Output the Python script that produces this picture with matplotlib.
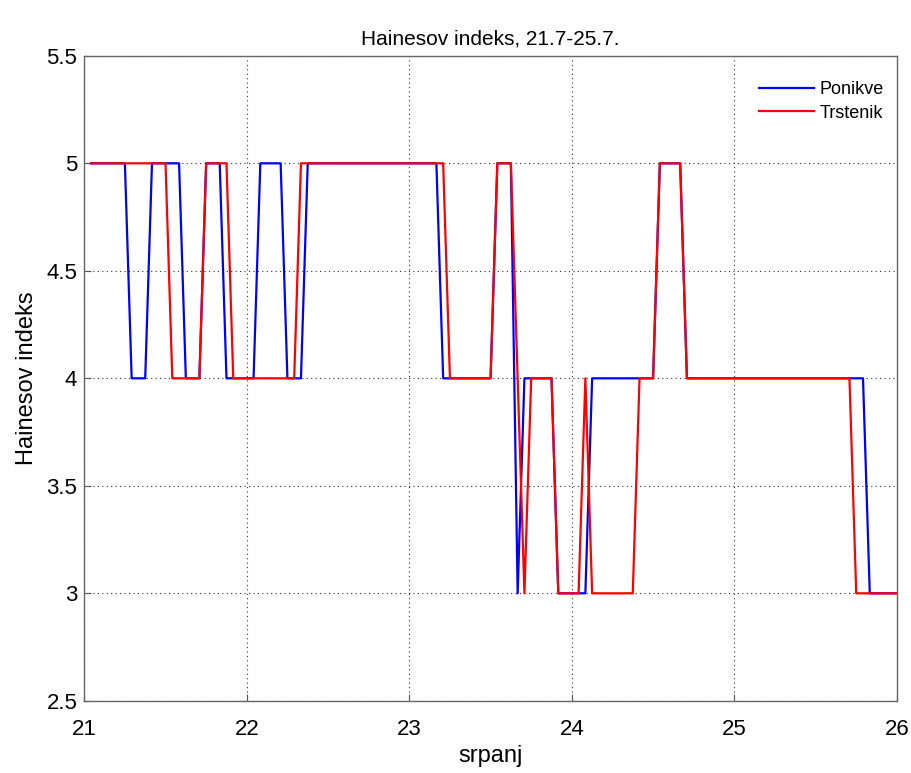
import numpy as np
import matplotlib
matplotlib.use("Agg")
import matplotlib.pyplot as plt

plt.rcParams['font.family'] = ['Liberation Sans', 'DejaVu Sans']

# hourly values starting 21.7 01:00, ending 26.7 00:00
hours = np.arange(1, 121)

ponikve = ([5]*6 + [4]*3 + [5]*5 + [4]*3 + [5]*3 + [4]*5 + [5]*4 + [4]*3 +
           [5]*20 + [4]*8 + [5]*3 + [3]*1 + [4]*5 + [3]*5 + [4]*10 + [5]*4 +
           [4]*27 + [3]*5)
trstenik = ([5]*12 + [4]*5 + [5]*4 + [4]*10 + [5]*22 + [4]*7 + [5]*3 + [4]*1 +
            [3]*1 + [4]*4 + [3]*4 + [4]*1 + [3]*7 + [4]*3 + [5]*4 + [4]*25 + [3]*7)

series_names = ['Ponikve', 'Trstenik']
x_ticks = [21, 22, 23, 24, 25, 26]
y_ticks = [2.5, 3, 3.5, 4, 4.5, 5, 5.5]
y_ticklabels = ['2.5', '3', '3.5', '4', '4.5', '5', '5.5']

x = 21 + hours / 24.0

fig = plt.figure(figsize=(9.12, 7.73), dpi=100)
ax = fig.add_axes([0.0924, 0.0934, 0.891, 0.8344])
ax.plot(x, ponikve, color='#0000ff', lw=1.6, label=series_names[0])
ax.plot(x, trstenik, color='#ff0000', lw=1.6, label=series_names[1])

ax.set_xlim(21, 26)
ax.set_ylim(2.5, 5.5)
ax.set_xticks(x_ticks)
ax.set_yticks(y_ticks)
ax.set_yticklabels(y_ticklabels)
ax.tick_params(direction='in', labelsize=16, length=5, color='#555555')
ax.tick_params(axis='x', pad=13)
ax.tick_params(axis='y', pad=5)
ax.grid(True, linestyle=(0, (1, 3)), color='#333333', linewidth=0.8)
for s in ax.spines.values():
    s.set_color('#666666')
    s.set_linewidth(1.0)

ax.set_title('Hainesov indeks, 21.7-25.7.', fontsize=15, pad=8)
ax.set_xlabel('srpanj', fontsize=17, labelpad=4)
ax.set_ylabel('Hainesov indeks', fontsize=17, labelpad=6)

leg = ax.legend(loc='upper right', frameon=False, fontsize=13,
                handlelength=3.0, handletextpad=0.35, labelspacing=0.35,
                bbox_to_anchor=(1.0, 0.98), borderaxespad=0.3)

fig.savefig('out.png', dpi=100)
